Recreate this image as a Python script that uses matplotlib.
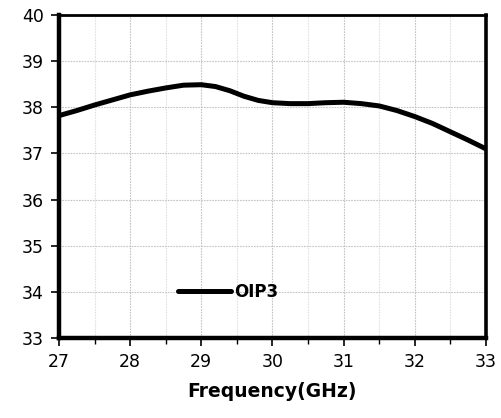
import matplotlib

matplotlib.use("Agg")
import matplotlib.pyplot as plt
from matplotlib.ticker import MultipleLocator

freq = [27.0, 27.25, 27.5, 27.75, 28.0, 28.25, 28.5, 28.75, 29.0, 29.2, 29.4, 29.6,
        29.8, 30.0, 30.25, 30.5, 30.75, 31.0, 31.25, 31.5, 31.75, 32.0, 32.25, 32.5,
        32.75, 33.0]
oip3 = [37.82, 37.93, 38.05, 38.16, 38.27, 38.35, 38.42, 38.48, 38.49, 38.45, 38.36, 38.24,
        38.15, 38.10, 38.08, 38.08, 38.10, 38.11, 38.08, 38.03, 37.93, 37.80, 37.65, 37.47,
        37.29, 37.10]

fig = plt.figure(figsize=(5.01, 4.18), dpi=100)
ax = fig.add_axes([0.1178, 0.1914, 0.852, 0.7726])

ax.plot(freq, oip3, color="black", linewidth=3.6, solid_capstyle="round",
        solid_joinstyle="round", label="OIP3")

ax.set_xlim(27, 33)
ax.set_ylim(33, 40)
ax.xaxis.set_major_locator(MultipleLocator(1))
ax.xaxis.set_minor_locator(MultipleLocator(0.5))
ax.yaxis.set_major_locator(MultipleLocator(1))

ax.grid(True, which="major", color="#c4c4c4", linestyle=(0, (1.5, 1)), linewidth=0.8)
ax.grid(True, which="minor", axis="x", color="#e0e0e0", linestyle=(0, (1.5, 1)), linewidth=0.8)
ax.set_axisbelow(True)

ax.tick_params(which="major", direction="out", length=6, width=1.2, labelsize=12.5, pad=5)
ax.tick_params(which="minor", direction="out", length=4, width=1.0)

ax.spines["left"].set_linewidth(3.2)
ax.spines["bottom"].set_linewidth(3.2)
ax.spines["top"].set_linewidth(2.0)
ax.spines["right"].set_linewidth(2.6)

ax.set_xlabel("Frequency(GHz)", fontsize=13.5, fontweight="bold", labelpad=8)

leg = ax.legend(loc="center left", bbox_to_anchor=(0.279, 0.142), frameon=False,
                borderpad=0, borderaxespad=0, handlelength=3.2, handletextpad=0.15,
                prop={"weight": "bold", "size": 12})

fig.savefig("out.png", dpi=100)
